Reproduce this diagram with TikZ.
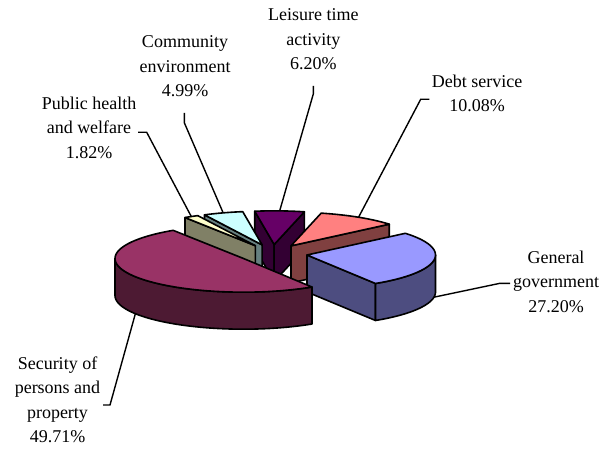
\documentclass[tikz,border=0pt]{standalone}
\usepackage{fontspec}
\setmainfont{Liberation Serif}
\def\PieR{128.5}
\def\PieK{0.262}
\def\PieH{37}
\def\PieE{34.7}
\def\PieOx{272.7}
\def\PieOy{196.4}
\definecolor{secTop}{HTML}{993366}
\definecolor{secSide}{HTML}{4D1A33}
\definecolor{genTop}{HTML}{9999FF}
\definecolor{genSide}{HTML}{4D4D80}
\definecolor{debTop}{HTML}{FF8080}
\definecolor{debSide}{HTML}{804040}
\definecolor{leiTop}{HTML}{660066}
\definecolor{leiSide}{HTML}{330033}
\definecolor{comTop}{HTML}{CCFFFF}
\definecolor{comSide}{HTML}{668080}
\definecolor{pubTop}{HTML}{FFFFCC}
\definecolor{pubSide}{HTML}{808066}
\tikzset{
  pieline/.style={draw=black,line width=1.6pt,line join=round},
  leader/.style={draw=black,line width=1.4pt},
  lbl/.style={font=\fontsize{18}{24.5}\selectfont,align=center,inner sep=0pt,anchor=north}
}
\newcommand\SliceCtr[2]{%
  \pgfmathsetmacro\scm{(#1+#2)/2}%
  \pgfmathsetmacro\scx{\PieOx+\PieE*cos(\scm)}%
  \pgfmathsetmacro\scy{\PieOy+\PieE*\PieK*sin(\scm)}}
\newcommand\SliceTop[3]{%
  \filldraw[pieline,fill=#3] (\scx,\scy) -- plot[domain=#1:#2,samples=60,variable=\t]
    ({\scx+\PieR*cos(\t)},{\scy+\PieR*\PieK*sin(\t)}) -- cycle;}
\newcommand\SliceOuter[3]{%
  \filldraw[pieline,fill=#3] plot[domain=#1:#2,samples=60,variable=\t]
    ({\scx+\PieR*cos(\t)},{\scy+\PieR*\PieK*sin(\t)}) --
    plot[domain=#2:#1,samples=60,variable=\t]
    ({\scx+\PieR*cos(\t)},{\scy+\PieR*\PieK*sin(\t)-\PieH}) -- cycle;}
\newcommand\SliceWall[2]{%
  \filldraw[pieline,fill=#2] (\scx,\scy) --
    ({\scx+\PieR*cos(#1)},{\scy+\PieR*\PieK*sin(#1)}) --
    ({\scx+\PieR*cos(#1)},{\scy+\PieR*\PieK*sin(#1)-\PieH}) --
    (\scx,\scy-\PieH) -- cycle;}
\begin{document}
\begin{tikzpicture}[x=1pt,y=1pt]
\useasboundingbox (0,0) rectangle (612,450);
% Leisure time activity
\SliceCtr{76.4}{98.7}
\SliceWall{98.7}{leiSide}
\SliceWall{76.4}{leiSide}
\SliceTop{76.4}{98.7}{leiTop}
\coordinate (leiEnd) at ({\scx+\PieR*cos(\scm)},{\scy+\PieR*\PieK*sin(\scm)});
% Community environment
\SliceCtr{98.7}{116.65}
\SliceWall{116.65}{comSide}
\SliceTop{98.7}{116.65}{comTop}
\coordinate (comEnd) at ({\scx+\PieR*cos(\scm)},{\scy+\PieR*\PieK*sin(\scm)});
% Debt service
\SliceCtr{40.1}{76.4}
\SliceWall{40.1}{debSide}
\SliceTop{40.1}{76.4}{debTop}
\coordinate (debEnd) at ({\scx+\PieR*cos(\scm)},{\scy+\PieR*\PieK*sin(\scm)});
% Public health and welfare
\SliceCtr{116.65}{123.2}
\SliceWall{123.2}{pubSide}
\SliceTop{116.65}{123.2}{pubTop}
\coordinate (pubEnd) at ({\scx+\PieR*cos(\scm)},{\scy+\PieR*\PieK*sin(\scm)});
% General government
\SliceCtr{-57.8}{40.1}
\SliceWall{-57.8}{genSide}
\SliceOuter{-57.8}{0}{genSide}
\SliceTop{-57.8}{40.1}{genTop}
\coordinate (genEnd) at ({\scx+\PieR*cos(\scm)},{\scy+\PieR*\PieK*sin(\scm)-\PieH});
% Security of persons and property
\SliceCtr{123.2}{302.2}
\SliceOuter{180}{302.2}{secSide}
\SliceTop{123.2}{302.2}{secTop}
\coordinate (secEnd) at ({\scx+\PieR*cos(\scm)},{\scy+\PieR*\PieK*sin(\scm)-\PieH});
% labels
\node[lbl] (leiLbl) at (313.3,441.5) {Leisure time\\activity\\6.20\%};
\node[lbl] (comLbl) at (185,414.5) {Community\\environment\\4.99\%};
\node[lbl] (pubLbl) at (89,353.5) {Public health\\and welfare\\1.82\%};
\node[lbl] (debLbl) at (477,375.5) {Debt service\\10.08\%};
\node[lbl] (genLbl) at (556,199.5) {General\\government\\27.20\%};
\node[lbl] (secLbl) at (57.5,93.5) {Security of\\persons and\\property\\49.71\%};
% leader lines
\coordinate (leiA) at (313.3,364);
\coordinate (leiB) at (313.3,356);
\coordinate (comA) at (184.3,337);
\coordinate (comB) at (184.3,327.3);
\coordinate (pubA) at (138,317.7);
\coordinate (pubB) at (146.7,317.7);
\coordinate (debA) at (429.3,350.7);
\coordinate (debB) at (420.7,350.7);
\coordinate (genA) at (510,166.7);
\coordinate (genB) at (500,166.7);
\coordinate (secA) at (103,45);
\coordinate (secB) at (110,45);
\draw[leader] (leiA) -- (leiB) -- (leiEnd);
\draw[leader] (comA) -- (comB) -- (comEnd);
\draw[leader] (pubA) -- (pubB) -- (pubEnd);
\draw[leader] (debA) -- (debB) -- (debEnd);
\draw[leader] (genA) -- (genB) -- (genEnd);
\draw[leader] (secA) -- (secB) -- (secEnd);
\end{tikzpicture}
\end{document}
